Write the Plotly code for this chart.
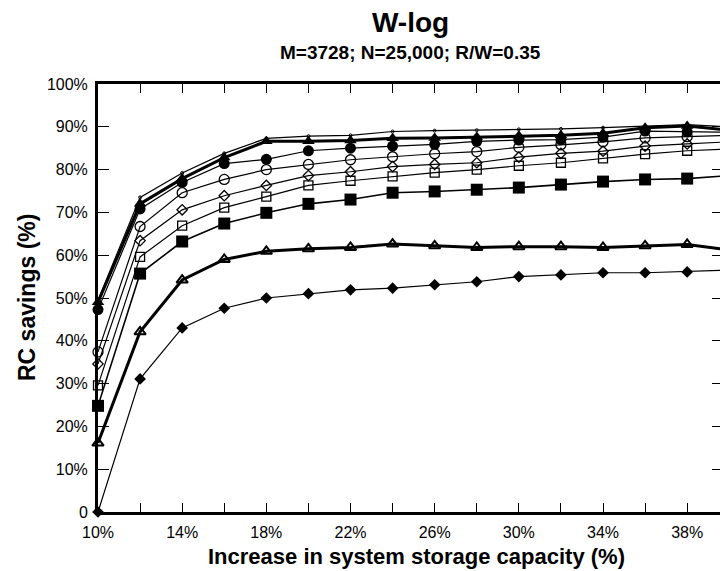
import plotly.graph_objects as go

# Storage capacity increase (%) at which RC savings were measured
capacity = [10, 12, 14, 16, 18, 20, 22, 24, 26, 28, 30, 32, 34, 36, 38, 40]

# RC savings (%) per configuration
dots_series = [49.5, 73.5, 79.2, 83.8, 87.3, 87.8, 88.0, 88.9, 89.1, 89.2, 89.4, 89.5, 89.8, 90.2, 90.5, 90.0]
tri_filled = [49.0, 72.0, 77.9, 82.8, 86.6, 86.6, 86.8, 87.3, 87.4, 87.6, 87.9, 88.0, 88.5, 89.8, 90.2, 89.2]
circ_filled = [47.3, 70.8, 77.0, 81.4, 82.4, 84.4, 85.0, 85.5, 85.9, 86.6, 86.9, 87.0, 87.6, 89.0, 88.8, 88.7]
circ_open = [37.4, 66.7, 74.6, 77.7, 80.0, 81.2, 82.3, 83.0, 83.7, 84.2, 85.2, 85.8, 86.5, 87.4, 87.7, 88.0]
diam_open = [34.6, 63.4, 70.6, 73.9, 76.3, 78.6, 79.5, 80.7, 81.2, 81.6, 82.9, 83.8, 84.3, 85.5, 86.0, 86.5]
sq_open = [29.6, 59.6, 66.9, 71.1, 73.7, 76.3, 77.4, 78.4, 79.3, 80.0, 80.9, 81.6, 82.6, 83.6, 84.4, 84.8]
sq_filled = [24.8, 55.7, 63.2, 67.4, 69.9, 72.0, 73.0, 74.6, 74.9, 75.3, 75.8, 76.5, 77.2, 77.7, 77.9, 78.6]
tri_open = [16.1, 42.1, 54.2, 59.0, 60.9, 61.5, 61.8, 62.6, 62.2, 61.8, 62.0, 62.0, 61.8, 62.2, 62.5, 61.2]
diam_filled = [0.0, 31.1, 43.0, 47.6, 50.0, 51.0, 51.9, 52.3, 53.1, 53.8, 55.0, 55.4, 55.9, 55.9, 56.1, 56.5]

# Axis ticks
x_tick_vals = [10, 12, 14, 16, 18, 20, 22, 24, 26, 28, 30, 32, 34, 36, 38]
x_tick_text = ["10%", "", "14%", "", "18%", "", "22%", "", "26%", "", "30%", "", "34%", "", "38%"]
y_tick_vals = [0, 10, 20, 30, 40, 50, 60, 70, 80, 90, 100]
y_tick_text = ["0", "10%", "20%", "30%", "40%", "50%", "60%", "70%", "80%", "90%", "100%"]

FONT = "Arial, Liberation Sans, sans-serif"

# (values, symbol, marker size, line width, marker outline width)
series = [
    (dots_series, "circle-open", 3, 1.2, 1.0),
    (tri_filled, "triangle-up", 11, 3.0, 0),
    (circ_filled, "circle", 11, 1.2, 0),
    (circ_open, "circle-open", 10, 1.2, 1.3),
    (diam_open, "diamond-open", 8, 1.2, 1.3),
    (sq_open, "square-open", 9, 1.2, 1.3),
    (sq_filled, "square", 12, 1.6, 0),
    (tri_open, "triangle-up-open", 10, 3.0, 2.0),
    (diam_filled, "diamond", 9, 1.2, 0),
]

fig = go.Figure()
for vals, sym, size, lw, mlw in series:
    fig.add_trace(go.Scatter(
        x=capacity, y=vals, mode="lines+markers",
        line=dict(color="black", width=lw),
        marker=dict(symbol=sym, size=size, color="black",
                    line=dict(color="black", width=mlw)),
        cliponaxis=False, showlegend=False,
    ))

# Invisible trace on the right-hand axis so its inner ticks get drawn
fig.add_trace(go.Scatter(x=[capacity[0]], y=[0], yaxis="y2", mode="markers",
                         marker=dict(opacity=0), showlegend=False, hoverinfo="skip"))

fig.update_layout(
    width=720, height=571,
    margin=dict(l=98, r=0, t=84, b=59),
    paper_bgcolor="white", plot_bgcolor="white",
    font=dict(family=FONT, color="black", size=16),
    xaxis=dict(
        range=[10, 39.56], tickvals=x_tick_vals, ticktext=x_tick_text,
        ticks="inside", ticklen=9, tickwidth=1, tickcolor="black",
        showline=True, linewidth=3, linecolor="black", mirror="ticks",
        showgrid=False, zeroline=False, ticklabelstandoff=4,
        tickfont=dict(family=FONT, size=16, color="black"),
    ),
    yaxis=dict(
        range=[0, 100], tickvals=y_tick_vals, ticktext=y_tick_text,
        ticks="inside", ticklen=11, tickwidth=1, tickcolor="black",
        showline=True, linewidth=3, linecolor="black", mirror=False,
        showgrid=False, zeroline=False, ticklabelstandoff=4,
        tickfont=dict(family=FONT, size=16, color="black"),
    ),
    yaxis2=dict(
        range=[0, 100], tickvals=y_tick_vals, showticklabels=False,
        overlaying="y", side="right",
        ticks="inside", ticklen=8, tickwidth=1, tickcolor="black",
        showline=False, showgrid=False, zeroline=False,
    ),
    annotations=[
        dict(text="<b>W-log</b>", xref="paper", yref="paper",
             x=0.503, y=(512 - 22) / 428, xanchor="center", yanchor="middle",
             showarrow=False, font=dict(family=FONT, size=28, color="black")),
        dict(text="<b>M=3728; N=25,000; R/W=0.35</b>", xref="paper", yref="paper",
             x=0.503, y=(512 - 53) / 428, xanchor="center", yanchor="middle",
             showarrow=False, font=dict(family=FONT, size=19, color="black")),
        dict(text="<b>Increase in system storage capacity (%)</b>", xref="paper", yref="paper",
             x=(416 - 98) / 622, y=(512 - 556) / 428, xanchor="center", yanchor="middle",
             showarrow=False, font=dict(family=FONT, size=22, color="black")),
        dict(text="<b>RC savings (%)</b>", xref="paper", yref="paper",
             x=(27 - 98) / 622, y=(512 - 298) / 428, xanchor="center", yanchor="middle",
             textangle=-90, showarrow=False,
             font=dict(family=FONT, size=23, color="black")),
    ],
)

fig.write_html("out.html")
